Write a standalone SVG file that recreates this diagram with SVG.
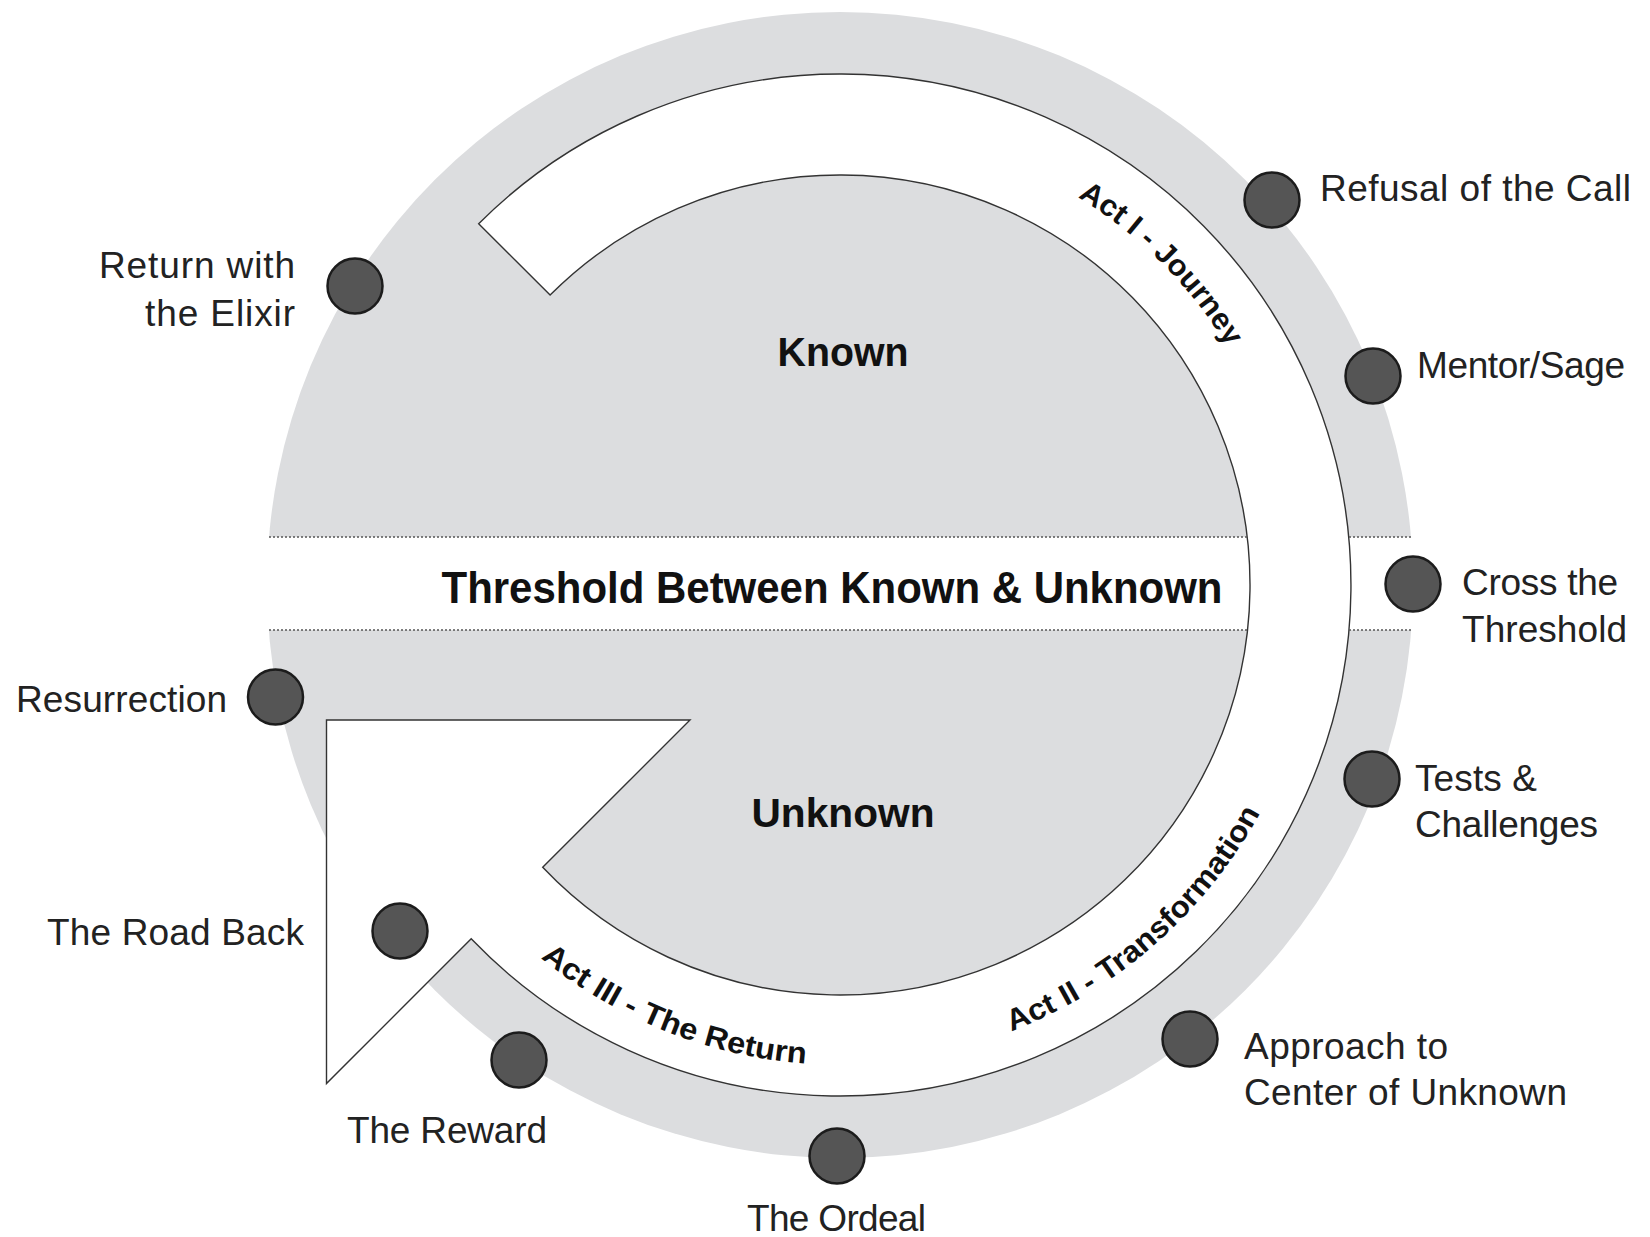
<svg xmlns="http://www.w3.org/2000/svg" width="1650" height="1237" viewBox="0 0 1650 1237">
<style>
.disc{fill:#dcdddf}
.band{fill:#fff;stroke:#333;stroke-width:1.4;stroke-linejoin:miter}
.dots{stroke:#555;stroke-width:1.6;stroke-dasharray:2 2;fill:none}
.node{fill:#555;stroke:#1c1c1c;stroke-width:2.5}
.lbl{font-family:"Liberation Sans",Arial,sans-serif;font-size:37px;fill:#222}
.big{font-family:"Liberation Sans Narrow","Liberation Sans",Arial,sans-serif;font-weight:bold;fill:#111;text-anchor:middle}
.act{font-family:"Liberation Sans Narrow","Liberation Sans",Arial,sans-serif;font-weight:bold;font-size:30px;fill:#111}
</style>
<defs>
<path id="pActI" d="M 1077.7 197.1 A 453 453 0 0 1 1230.0 350.7"/>
<path id="pActII" d="M 1011.3 1031.3 A 480 480 0 0 0 1265.9 802.0"/>
<path id="pActIII" d="M 540.5 958.0 A 480 480 0 0 0 823.2 1064.7"/>
</defs>
<rect width="1650" height="1237" fill="#fff"/>
<g id="background">
<circle class="disc" cx="840" cy="585" r="573"/>
<rect x="262" y="537" width="1156" height="93" fill="#fff"/>
</g>
<g id="connectors">
<path id="journey-band" class="band" d="M 478.67 223.67 A 511 511 0 1 1 471.2 938.8 L 326.5 1083.5 L 326.5 720 L 690 720 L 542.7 867.3 A 410 410 0 1 0 550.09 295.09 Z"/>
<line class="dots" x1="269" y1="537" x2="1247" y2="537"/>
<line class="dots" x1="1349" y1="537" x2="1411" y2="537"/>
<line class="dots" x1="269" y1="630" x2="1247.5" y2="630"/>
<line class="dots" x1="1349" y1="630" x2="1411" y2="630"/>
</g>
<g id="regions">
<text class="big" x="843" y="366" font-size="41" textLength="131" lengthAdjust="spacingAndGlyphs">Known</text>
<text class="big" x="843" y="827" font-size="41" textLength="183" lengthAdjust="spacingAndGlyphs">Unknown</text>
<text class="big" x="832" y="603" font-size="44" textLength="781" lengthAdjust="spacingAndGlyphs">Threshold Between Known &amp; Unknown</text>
</g>
<g id="acts">
<text class="act"><textPath href="#pActI" textLength="214" lengthAdjust="spacingAndGlyphs">Act I - Journey</textPath></text>
<text class="act"><textPath href="#pActII" textLength="338" lengthAdjust="spacingAndGlyphs">Act II - Transformation</textPath></text>
<text class="act"><textPath href="#pActIII" textLength="290" lengthAdjust="spacingAndGlyphs">Act III - The Return</textPath></text>
</g>
<g id="node-refusal"><circle class="node" cx="1272" cy="200" r="27.5"/><text class="lbl" x="1320" y="201" textLength="311" lengthAdjust="spacing">Refusal of the Call</text></g>
<g id="node-mentor"><circle class="node" cx="1373" cy="376" r="27.5"/><text class="lbl" x="1417" y="378" textLength="208" lengthAdjust="spacing">Mentor/Sage</text></g>
<g id="node-cross"><circle class="node" cx="1413" cy="584" r="27.5"/><text class="lbl" x="1462" y="595" textLength="156" lengthAdjust="spacing">Cross the</text><text class="lbl" x="1462" y="642" textLength="165" lengthAdjust="spacing">Threshold</text></g>
<g id="node-tests"><circle class="node" cx="1372" cy="779" r="27.5"/><text class="lbl" x="1415" y="791" textLength="122" lengthAdjust="spacing">Tests &amp;</text><text class="lbl" x="1415" y="837" textLength="183" lengthAdjust="spacing">Challenges</text></g>
<g id="node-approach"><circle class="node" cx="1190" cy="1039" r="27.5"/><text class="lbl" x="1244" y="1059" textLength="204" lengthAdjust="spacing">Approach to</text><text class="lbl" x="1244" y="1105" textLength="323" lengthAdjust="spacing">Center of Unknown</text></g>
<g id="node-ordeal"><circle class="node" cx="837" cy="1156" r="27.5"/><text class="lbl" x="747" y="1231" textLength="179" lengthAdjust="spacing">The Ordeal</text></g>
<g id="node-reward"><circle class="node" cx="519" cy="1060" r="27.5"/><text class="lbl" x="347" y="1143" textLength="200" lengthAdjust="spacing">The Reward</text></g>
<g id="node-roadback"><circle class="node" cx="400" cy="931" r="27.5"/><text class="lbl" x="47" y="945" textLength="257" lengthAdjust="spacing">The Road Back</text></g>
<g id="node-resurrection"><circle class="node" cx="275.5" cy="697" r="27.5"/><text class="lbl" x="16" y="712" textLength="211" lengthAdjust="spacing">Resurrection</text></g>
<g id="node-elixir"><circle class="node" cx="355" cy="286" r="27.5"/><text class="lbl" x="99" y="278" textLength="196" lengthAdjust="spacing">Return with</text><text class="lbl" x="145" y="326" textLength="150" lengthAdjust="spacing">the Elixir</text></g>
</svg>
